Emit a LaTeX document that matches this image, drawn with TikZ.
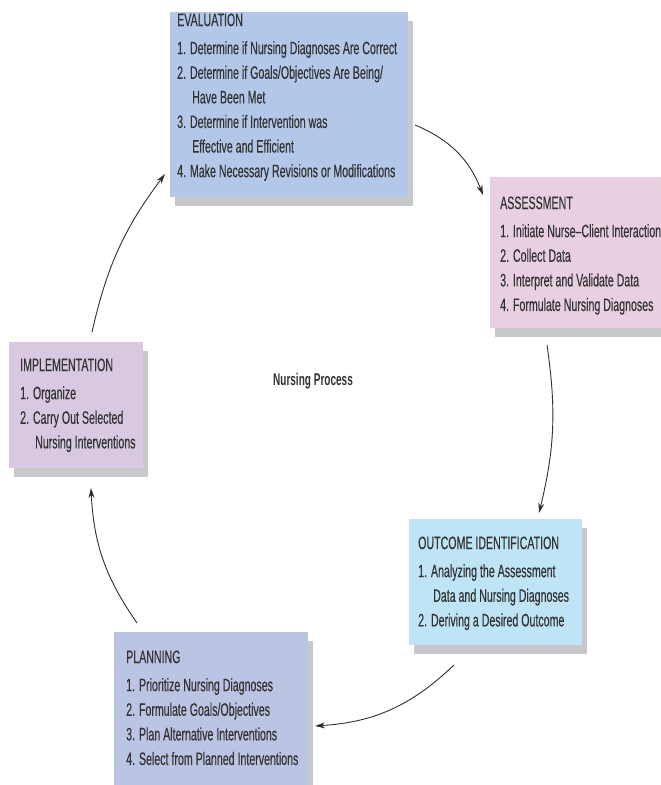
\documentclass[tikz,border=0pt]{standalone}
\usepackage{fontspec}
\setmainfont{Liberation Sans}[FakeStretch=0.59, UprightFeatures={FakeBold=0.3}]
\usetikzlibrary{arrows.meta,shadows}
\definecolor{evalc}{HTML}{B3C7E8}
\definecolor{assessc}{HTML}{E8D0E2}
\definecolor{outc}{HTML}{BEE4F6}
\definecolor{planc}{HTML}{BCC4E4}
\definecolor{implc}{HTML}{D8C8E2}
\definecolor{shadowc}{HTML}{C8C8CC}
\definecolor{textc}{HTML}{333333}
\definecolor{arrowc}{HTML}{303030}
\begin{document}
\begin{tikzpicture}[x=1pt,y=-1pt,
  box/.style={rectangle, draw=none, inner sep=0pt, anchor=north west,
    drop shadow={shadow xshift=5pt, shadow yshift=-9pt, fill=shadowc, opacity=1}},
  txt/.style={anchor=north west, inner sep=0pt, align=left, text=textc,
    font=\fontsize{18}{24.6}\selectfont},
  arr/.style={draw=arrowc, line width=0.9pt, -{Stealth[length=10pt,width=6pt]}}]
\clip (0,0) rectangle (661,785);
\fill[white] (0,0) rectangle (661,785);

% boxes
\node[box, fill=evalc, minimum width=238pt, minimum height=185pt] (eval) at (170,12) {};
\node[box, fill=assessc, minimum width=180pt, minimum height=151pt] (assess) at (490,177) {};
\node[box, fill=outc, minimum width=173pt, minimum height=126pt] (outcome) at (409,519) {};
\node[box, fill=planc, minimum width=194pt, minimum height=160pt] (plan) at (114,632) {};
\node[box, fill=implc, minimum width=134pt, minimum height=126pt] (impl) at (9,342) {};

% texts
\node[txt] (evalt) at (177,13.3) {EVALUATION\\[3.5pt]
1. Determine if Nursing Diagnoses Are Correct\\
2. Determine if Goals/Objectives Are Being/\\
\hspace*{15pt}Have Been Met\\
3. Determine if Intervention was\\
\hspace*{15pt}Effective and Efficient\\
4. Make Necessary Revisions or Modifications};

\node[txt] (assesst) at (500,196.3) {ASSESSMENT\\[3.5pt]
1. Initiate Nurse--Client Interaction\\
2. Collect Data\\
3. Interpret and Validate Data\\
4. Formulate Nursing Diagnoses};

\node[txt] (outt) at (418,536.3) {OUTCOME IDENTIFICATION\\[3.5pt]
1. Analyzing the Assessment\\
\hspace*{15pt}Data and Nursing Diagnoses\\
2. Deriving a Desired Outcome};

\node[txt] (plant) at (126,650.3) {PLANNING\\[3.5pt]
1. Prioritize Nursing Diagnoses\\
2. Formulate Goals/Objectives\\
3. Plan Alternative Interventions\\
4. Select from Planned Interventions};

\node[txt] (implt) at (20,358.3) {IMPLEMENTATION\\[3.5pt]
1. Organize\\
2. Carry Out Selected\\
\hspace*{15pt}Nursing Interventions};

\node[text=textc, font=\fontsize{17}{20}\selectfont\bfseries] (np) at (313,381) {Nursing Process};

% connector end points
\coordinate (e1) at (415,125);
\coordinate (a0) at (483,195);
\coordinate (a1) at (547,345);
\coordinate (o0) at (539,513);
\coordinate (o1) at (454,665);
\coordinate (p0) at (315,726);
\coordinate (p1) at (137,623);
\coordinate (i0) at (91,488);
\coordinate (i1) at (92,332);
\coordinate (e0) at (165,174);

\draw[arr] (e1) to[bend left=23] (a0);
\draw[arr] (a1) to[bend left=11] (o0);
\draw[arr] (o1) to[bend left=20] (p0);
\draw[arr] (p1) to[bend left=16] (i0);
\draw[arr] (i1) to[bend left=12] (e0);
\end{tikzpicture}
\end{document}
